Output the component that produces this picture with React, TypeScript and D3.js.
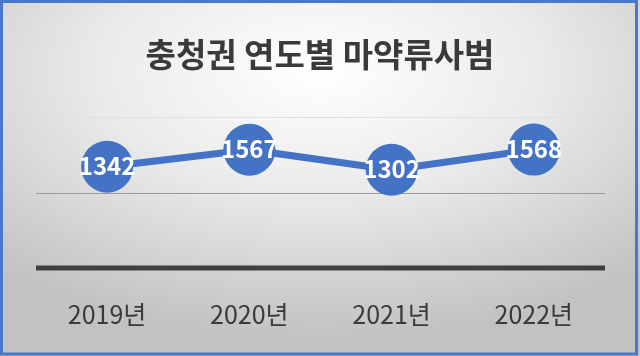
import React from "react";
import * as d3 from "d3";

const categories = ["2019년", "2020년", "2021년", "2022년"];
const values = [1342, 1567, 1302, 1568];
const yTicks = [1000, 2000];
const title = "충청권 연도별 마약류사범";

const W = 640;
const H = 356;

export default function App() {
  const x = d3.scaleBand<string>().domain(categories).range([36, 605]);
  const y = d3.scaleLinear().domain([0, 2000]).range([268, 117]);
  const line = d3
    .line<number>()
    .x((_, i) => (x(categories[i]) as number) + x.bandwidth() / 2)
    .y((d) => y(d));
  const font = "'Noto Sans CJK KR', 'Noto Sans', sans-serif";
  return (
    <svg
      width={W}
      height={H}
      style={{ position: "fixed", left: 0, top: 0, display: "block" }}
    >
      <defs>
        <radialGradient id="bg" cx="50%" cy="20%" r="75%" fx="50%" fy="20%">
          <stop offset="0%" stopColor="#ffffff" />
          <stop offset="45%" stopColor="#ebebeb" />
          <stop offset="100%" stopColor="#c2c2c2" />
        </radialGradient>
      </defs>
      <rect x={0} y={0} width={W} height={H} fill="url(#bg)" />
      <rect x={1.5} y={1.5} width={W - 5} height={H - 3.5} fill="none" stroke="#4a78c8" strokeWidth={3} />
      <text
        x={320}
        y={67}
        textAnchor="middle"
        fontFamily={font}
        fontWeight="bold"
        fontSize={33}
        fill="#3a3a3a"
      >
        {title}
      </text>
      {yTicks.map((t, i) => (
        <line
          key={t}
          x1={36}
          x2={605}
          y1={Math.round(y(t)) + 0.5}
          y2={Math.round(y(t)) + 0.5}
          stroke={i === yTicks.length - 1 ? "#e0e0e0" : "#9a9a9a"}
          strokeWidth={1}
        />
      ))}
      <line x1={36} x2={605} y1={y(0)} y2={y(0)} stroke="#404040" strokeWidth={5} />
      {categories.map((c) => (
        <text
          key={c}
          x={(x(c) as number) + x.bandwidth() / 2}
          y={324}
          textAnchor="middle"
          fontFamily={font}
          fontSize={25}
          fill="#3a3a3a"
        >
          {c}
        </text>
      ))}
      <path d={line(values) || ""} fill="none" stroke="#4472c4" strokeWidth={7} strokeLinejoin="round" />
      {values.map((v, i) => {
        const cx = (x(categories[i]) as number) + x.bandwidth() / 2;
        return (
          <g key={i}>
            <circle cx={cx} cy={y(v)} r={26} fill="#4472c4" />
            <text
              x={cx}
              y={y(v)}
              dy="0.36em"
              textAnchor="middle"
              fontFamily={font}
              fontWeight="bold"
              fontSize={24}
              fill="#ffffff"
            >
              {v}
            </text>
          </g>
        );
      })}
    </svg>
  );
}
